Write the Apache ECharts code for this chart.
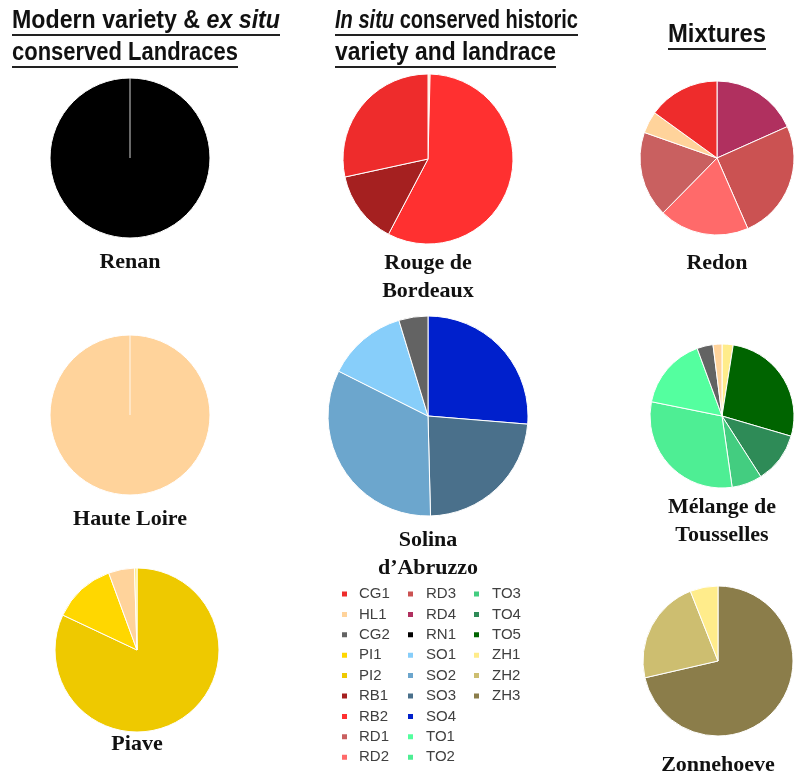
<!DOCTYPE html>
<html><head><meta charset="utf-8">
<script src="https://cdn.jsdelivr.net/npm/echarts@6/dist/echarts.min.js"></script>
<style>html,body{margin:0;padding:0;background:#fff}#c{width:800px;height:776px}</style>
</head><body><div id="c"></div>
<script>
// ---------- DATA ----------
const legendCol1 = ['CG1','HL1','CG2','PI1','PI2','RB1','RB2','RD1','RD2'];
const legendCol2 = ['RD3','RD4','RN1','SO1','SO2','SO3','SO4','TO1','TO2'];
const legendCol3 = ['TO3','TO4','TO5','ZH1','ZH2','ZH3'];

const renan = [['RN1',100]];
const hauteLoire = [['HL1',100]];
const piave = [['PI2',82.0],['PI1',12.4],['HL1',5.1],['ZH1',0.5]];
const rougeDeBordeaux = [['HL1',0.4],['RB2',57.3],['RB1',13.9],['CG1',28.4]];
const solina = [['SO4',26.3],['SO3',23.3],['SO2',32.8],['SO1',12.9],['CG2',4.7]];
const redon = [['RD4',18.3],['RD3',25.1],['RD2',18.9],['RD1',18.0],['HL1',4.6],['CG1',15.0]];
const melange = [['ZH1',2.5],['TO5',27.0],['TO4',11.4],['TO3',6.8],['TO2',30.4],['TO1',16.2],['CG2',3.6],['HL1',2.0]];
const zonnehoeve = [['ZH3',71.4],['ZH2',22.6],['ZH1',6.0]];

const pieNames = ['Renan','Rouge de\nBordeaux','Redon','Haute Loire','Solina\nd\u2019Abruzzo','M\u00e9lange de\nTousselles','Piave','Zonnehoeve'];

// ---------- STYLE ----------
const colorMap = {
  CG1:'#EE2C2C', HL1:'#FFD39B', CG2:'#636363', PI1:'#FFD700', PI2:'#EEC900',
  RB1:'#A52020', RB2:'#FF3030', RD1:'#C96060', RD2:'#FF6A6A', RD3:'#CB5252',
  RD4:'#B0305F', RN1:'#000000', SO1:'#87CEFA', SO2:'#6CA6CD', SO3:'#4A708B',
  SO4:'#0020CC', TO1:'#54FF9F', TO2:'#4EEE94', TO3:'#43CD80', TO4:'#2E8B57',
  TO5:'#006400', ZH1:'#FFEC8B', ZH2:'#CDBE70', ZH3:'#8B7D4A'
};
const layout = [
  {data:renan, cx:130, cy:158, r:80, ly:262},
  {data:rougeDeBordeaux, cx:428, cy:159, r:85, ly:263},
  {data:redon, cx:717, cy:158, r:77, ly:263},
  {data:hauteLoire, cx:130, cy:415, r:80, ly:519},
  {data:solina, cx:428, cy:416, r:100, ly:540},
  {data:melange, cx:722, cy:416, r:72, ly:507},
  {data:piave, cx:137, cy:650, r:82, ly:744},
  {data:zonnehoeve, cx:718, cy:661, r:75, ly:765}
];

const series = layout.map((p, i) => ({
  type:'pie', name: pieNames[i].replace('\n',' '),
  center:[p.cx, p.cy], radius:p.r, startAngle:90, clockwise:true,
  label:{show:false}, labelLine:{show:false}, silent:true,
  emphasis:{disabled:true}, animation:false,
  itemStyle:{borderColor:'#ffffff', borderWidth:1},
  data: p.data.map(d => ({name:d[0], value:d[1], itemStyle:{color:colorMap[d[0]]}}))
}));

const serifFont = 'bold 22px "Liberation Serif", "Times New Roman", serif';
const graphics = [];
layout.forEach((p, i) => {
  graphics.push({type:'text', x:p.cx, y:p.ly - 14, style:{text:pieNames[i], font:serifFont, fill:'#111', align:'center', verticalAlign:'top', lineHeight:28}, silent:true});
  // slice border of a single-category pie (start edge at 12 o'clock)
  if (p.data.length === 1) {
    graphics.push({type:'line', z:100, shape:{x1:p.cx, y1:p.cy, x2:p.cx, y2:p.cy - p.r}, style:{stroke:'#ffffff', lineWidth:1.5, opacity:0.55}, silent:true});
  }
});

// headers (Calibri-like: condensed bold)
const hFont = 'bold 25px "Liberation Sans", Arial, sans-serif';
const hFontI = 'italic bold 25px "Liberation Sans", Arial, sans-serif';
const cv = document.createElement('canvas').getContext('2d');
function mw(t, f){ cv.font = f; return cv.measureText(t).width; }
function headerLine(x, y, parts, targetW){
  let lx = 0;
  const kids = [];
  parts.forEach(pt => {
    const f = pt[1] ? hFontI : hFont;
    kids.push({type:'text', x:lx, y:0, style:{text:pt[0], font:f, fill:'#111', verticalAlign:'middle'}, silent:true});
    lx += mw(pt[0], f);
  });
  const s = targetW / lx;
  graphics.push({type:'group', x:x, y:y, scaleX:s, children:kids});
  graphics.push({type:'rect', shape:{x:x, y:y+13, width:targetW, height:2}, style:{fill:'#222'}, silent:true});
}
headerLine(12, 21, [['Modern variety & ',false],['ex situ',true]], 268);
headerLine(12, 53, [['conserved Landraces',false]], 226);
headerLine(335, 21, [['In situ',true],[' conserved historic',false]], 243);
headerLine(335, 53, [['variety and landrace',false]], 221);
headerLine(668, 35, [['Mixtures',false]], 98);

function legendCol(names, left, pad){
  return {
    data:names, orient:'vertical', left:left, top:586, padding:0, selectedMode:false,
    icon:'rect', itemWidth:7, itemHeight:7, itemGap:4.4,
    textStyle:{fontFamily:'"Liberation Sans", Arial, sans-serif', fontSize:15, color:'#404040', lineHeight:16, padding:[0,0,0,pad]}
  };
}

const chart = echarts.init(document.getElementById('c'), null, {renderer:'canvas'});
chart.setOption({
  animation:false,
  backgroundColor:'#ffffff',
  legend:[legendCol(legendCol1, 340, 6), legendCol(legendCol2, 406, 7), legendCol(legendCol3, 472, 7)],
  series: series,
  graphic: graphics
});
</script></body></html>
